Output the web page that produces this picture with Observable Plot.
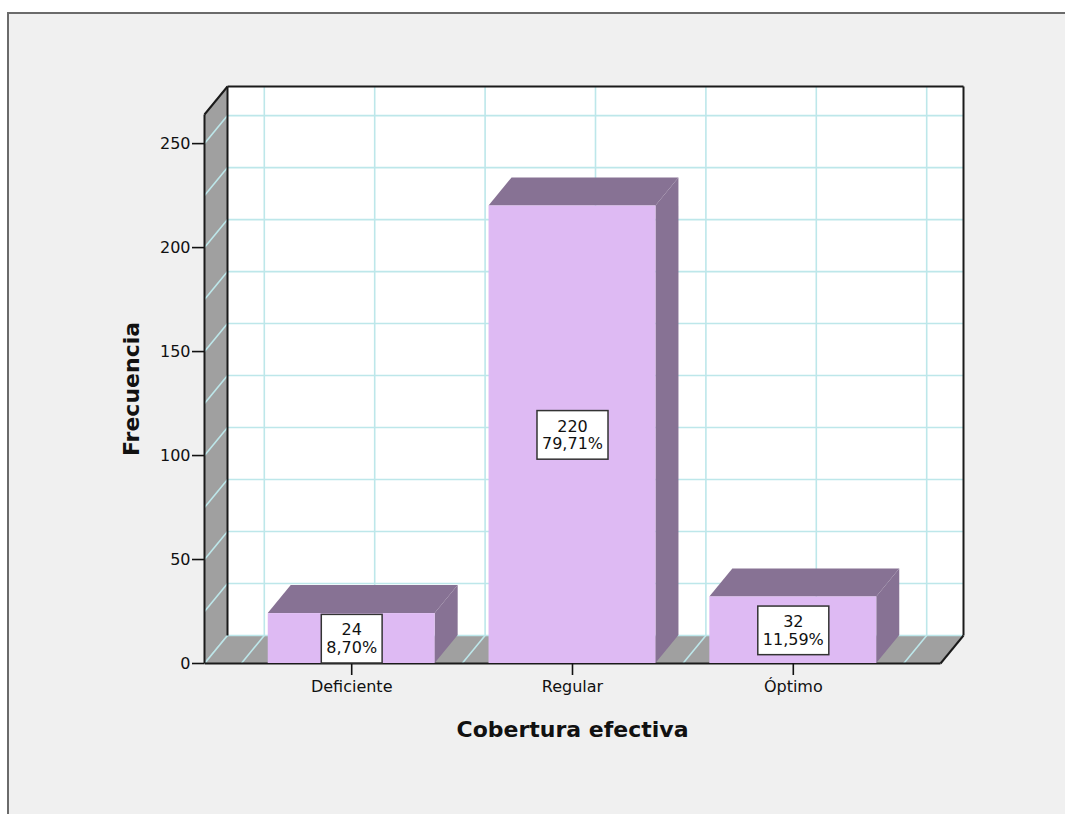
<!DOCTYPE html>
<html>
<head>
<meta charset="utf-8">
<script src="https://cdn.jsdelivr.net/npm/d3@7"></script>
<script src="https://cdn.jsdelivr.net/npm/@observablehq/plot@0.6"></script>
<style>
  html, body { margin: 0; padding: 0; background: #ffffff; width: 1065px; height: 814px; overflow: hidden; }
  #panel { position: absolute; left: 7px; top: 12px; width: 1100px; height: 900px;
           background: #f0f0f0; border-left: 2px solid #6b6b6b; border-top: 2px solid #6b6b6b; }
  #chart { position: absolute; left: 0; top: 0; }
</style>
</head>
<body>
<div id="panel"></div>
<div id="chart"></div>
<script>
// Frequencies of "Cobertura efectiva"
const categories = ["Deficiente", "Regular", "Óptimo"];
const frequencies = [24, 220, 32];
const percentLabels = ["8,70%", "79,71%", "11,59%"];
const yTicks = [0, 50, 100, 150, 200, 250];
const yMax = 264;
const gridStep = 25;

// Page and plot geometry
const W = 1065, H = 814;
const margin = {left: 204, right: 125, top: 114, bottom: 151};
const xDomain = [-2 / 3, categories.length - 1 + 2 / 3];
const pxPerX = (W - margin.left - margin.right) / (xDomain[1] - xDomain[0]);
const pxPerY = (H - margin.top - margin.bottom) / yMax;
// 3D depth of walls and bars, expressed in data units
const dX = 23 / pxPerX;
const dY = 28 / pxPerY;
const half = 0.378;           // half bar width, in category steps
const [x0, x1] = xDomain;

const colors = {
  front: "#debaf3",
  shade: "#877294",
  wall: "#a0a0a0",
  grid: "#bde7ea",
  edge: "#1a1a1a"
};

const bars = categories.map((c, i) => ({cat: c, i, v: frequencies[i], pct: percentLabels[i]}));
const hGrid = d3.range(0, yMax, gridStep);
const vGrid = d3.range(-0.5, categories.length - 0.5 + 0.01, 0.5);

const sidePts = bars.flatMap(b => [
  {cat: b.cat, x: b.i + half, y1: 0, y2: b.v},
  {cat: b.cat, x: b.i + half + dX, y1: dY, y2: b.v + dY}
]);
const topPts = bars.flatMap(b => [
  {cat: b.cat, y: b.v, x1: b.i - half, x2: b.i + half},
  {cat: b.cat, y: b.v + dY, x1: b.i - half + dX, x2: b.i + half + dX}
]);

const edgeLinks = [
  {xa: x0, ya: 0, xb: x0, yb: yMax},                       // front left edge of side wall
  {xa: x0, ya: yMax, xb: x0 + dX, yb: yMax + dY},          // top of side wall
  {xa: x0 + dX, ya: dY, xb: x0 + dX, yb: yMax + dY},       // back wall left
  {xa: x0 + dX, ya: yMax + dY, xb: x1 + dX, yb: yMax + dY},// back wall top
  {xa: x1 + dX, ya: dY, xb: x1 + dX, yb: yMax + dY},       // back wall right
  {xa: x0, ya: 0, xb: x1, yb: 0},                          // floor front
  {xa: x1, ya: 0, xb: x1 + dX, yb: dY}                     // floor right
];

const chart = Plot.plot({
  width: W,
  height: H,
  marginLeft: margin.left,
  marginRight: margin.right,
  marginTop: margin.top,
  marginBottom: margin.bottom,
  style: {background: "transparent", fontFamily: "DejaVu Sans", color: "#111", overflow: "visible"},
  x: {type: "linear", domain: xDomain, axis: null},
  y: {domain: [0, yMax], axis: null},
  marks: [
    // back wall
    Plot.rect([0], {x1: x0 + dX, x2: x1 + dX, y1: dY, y2: yMax + dY, fill: "white"}),
    Plot.ruleY(hGrid.slice(1).map(v => v + dY), {x1: x0 + dX, x2: x1 + dX, stroke: colors.grid, strokeWidth: 1.6}),
    Plot.ruleX(vGrid.map(x => x + dX), {y1: dY, y2: yMax + dY, stroke: colors.grid, strokeWidth: 1.6}),
    // side wall and floor
    Plot.areaY([{x: x0, y1: 0, y2: yMax}, {x: x0 + dX, y1: dY, y2: yMax + dY}],
      {x: "x", y1: "y1", y2: "y2", fill: colors.wall}),
    Plot.areaX([{y: 0, x1: x0, x2: x1}, {y: dY, x1: x0 + dX, x2: x1 + dX}],
      {y: "y", x1: "x1", x2: "x2", fill: colors.wall}),
    Plot.link(hGrid, {x1: x0, y1: d => d, x2: x0 + dX, y2: d => d + dY, stroke: colors.grid, strokeWidth: 1.6}),
    Plot.link(vGrid, {x1: d => d, y1: 0, x2: d => d + dX, y2: dY, stroke: colors.grid, strokeWidth: 1.6}),
    Plot.ruleY([dY], {x1: x0 + dX, x2: x1 + dX, stroke: colors.grid, strokeWidth: 1.6}),
    Plot.link(edgeLinks, {x1: "xa", y1: "ya", x2: "xb", y2: "yb", stroke: colors.edge, strokeWidth: 2}),
    // bars
    Plot.areaY(sidePts, {x: "x", y1: "y1", y2: "y2", z: "cat", fill: colors.shade}),
    Plot.areaX(topPts, {y: "y", x1: "x1", x2: "x2", z: "cat", fill: colors.shade}),
    Plot.rect(bars, {x1: d => d.i - half, x2: d => d.i + half, y1: 0, y2: "v", fill: colors.front}),
    // axes
    Plot.axisY({ticks: yTicks, tickSize: 12, tickPadding: 2, fontSize: 16, strokeWidth: 1.6, label: null}),
    Plot.axisX({ticks: categories.map((c, i) => i), tickFormat: i => categories[i],
      tickSize: 12, tickPadding: 5, fontSize: 16, strokeWidth: 1.6, label: null}),
    // value labels
    Plot.text(bars, {x: "i", y: d => d.v / 2, text: d => `${d.v}\n${d.pct}`,
      fontSize: 16, lineHeight: 1.1, fill: "#111"}),
    // axis titles
    Plot.text(["Frecuencia"], {text: d => d, frameAnchor: "left", dx: -73, rotate: -90,
      textAnchor: "middle", lineAnchor: "middle", fontSize: 22, fontWeight: "bold", fill: "#111"}),
    Plot.text(["Cobertura efectiva"], {text: d => d, frameAnchor: "bottom", dy: 66,
      textAnchor: "middle", lineAnchor: "middle", fontSize: 22, fontWeight: "bold", fill: "#111"})
  ]
});

document.getElementById("chart").append(chart);

// white boxes behind the value labels (the first text mark in the plot)
const padX = 5, padY = 6;
const labelGroup = chart.querySelectorAll('g[aria-label="text"]')[0];
labelGroup.querySelectorAll(":scope > text").forEach(t => {
  const b = t.getBBox();
  const r = document.createElementNS("http://www.w3.org/2000/svg", "rect");
  r.setAttribute("x", b.x - padX);
  r.setAttribute("y", b.y - padY);
  r.setAttribute("width", b.width + 2 * padX);
  r.setAttribute("height", b.height + 2 * padY);
  r.setAttribute("fill", "white");
  r.setAttribute("stroke", "#333");
  r.setAttribute("stroke-width", 1.5);
  if (t.getAttribute("transform")) r.setAttribute("transform", t.getAttribute("transform"));
  labelGroup.insertBefore(r, t);
});
</script>
</body>
</html>
